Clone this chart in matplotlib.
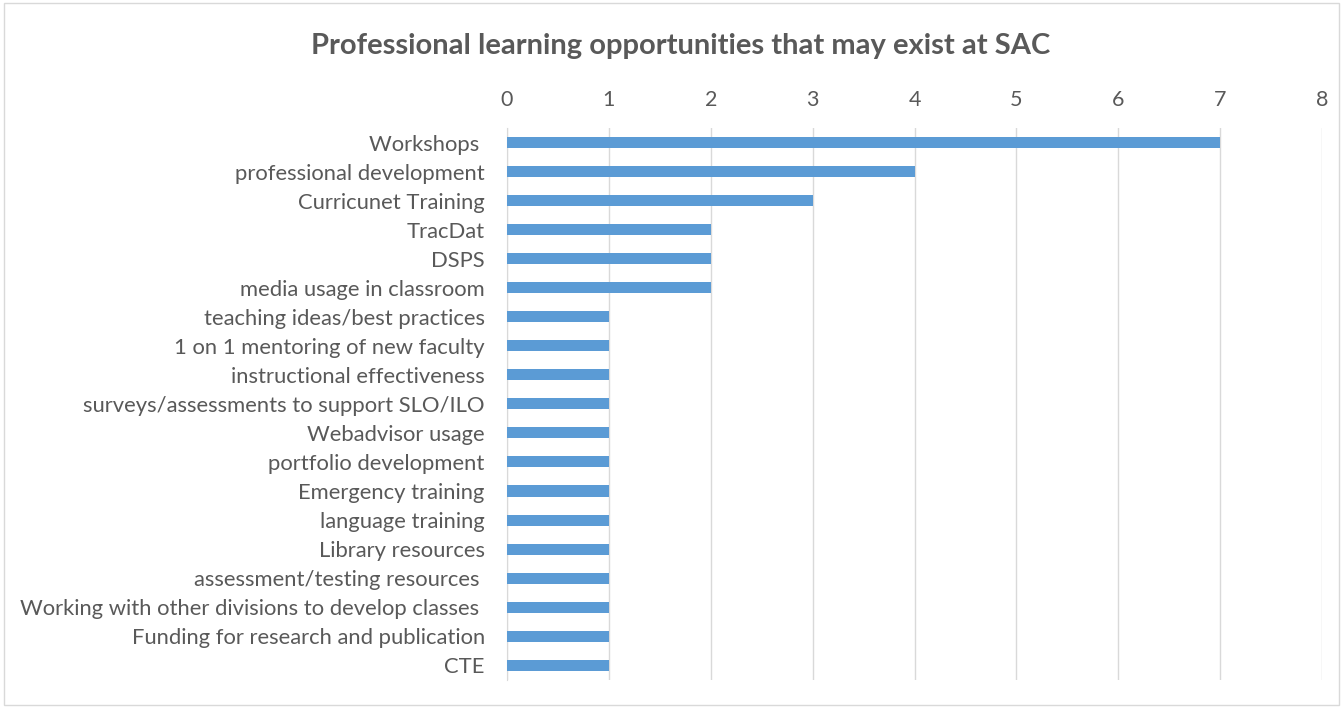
import matplotlib
matplotlib.use('Agg')
import matplotlib.pyplot as plt

# Data (top to bottom)
categories = [
    "Workshops ",
    "professional development",
    "Curricunet Training",
    "TracDat",
    "DSPS",
    "media usage in classroom",
    "teaching ideas/best practices",
    "1 on 1 mentoring of new faculty",
    "instructional effectiveness",
    "surveys/assessments to support SLO/ILO",
    "Webadvisor usage",
    "portfolio development",
    "Emergency training",
    "language training",
    "Library resources",
    "assessment/testing resources ",
    "Working with other divisions to develop classes ",
    "Funding for research and publication",
    "CTE",
]
counts = [7, 4, 3, 2, 2, 2, 1, 1, 1, 1, 1, 1, 1, 1, 1, 1, 1, 1, 1]
x_ticks = [0, 1, 2, 3, 4, 5, 6, 7, 8]

plt.rcParams['font.family'] = ['Lato', 'DejaVu Sans']
text_color = '#595959'

fig = plt.figure(figsize=(13.43, 7.08), dpi=100)
ax = fig.add_axes([0.3775, 0.040, 0.607, 0.779])

pos = list(range(len(categories)))
ax.barh(pos, counts, height=0.38, color='#5B9BD5', zorder=3)

ax.set_ylim(len(categories) - 0.5, -0.5)
ax.set_xlim(0, 8)
ax.set_xticks(x_ticks)
ax.set_yticks(pos)
ax.set_yticklabels(categories)

ax.xaxis.tick_top()
ax.tick_params(axis='x', length=0, pad=13, labelsize=15.5, colors=text_color)
ax.tick_params(axis='y', length=0, pad=16, labelsize=15.8, colors=text_color)

ax.grid(axis='x', color='#D9D9D9', linewidth=1, zorder=0)
for s in ['top', 'right', 'bottom']:
    ax.spines[s].set_visible(False)
ax.spines['left'].set_color('#D9D9D9')

fig.text(0.507, 0.935, 'Professional learning opportunities that may exist at SAC',
         ha='center', va='center', fontsize=21, fontweight='bold', color=text_color)

# light border around the chart area
border = plt.Rectangle((0.003, 0.004), 0.994, 0.992, transform=fig.transFigure,
                       fill=False, edgecolor='#D9D9D9', linewidth=1)
fig.patches.append(border)

fig.savefig('out.png', dpi=100)
